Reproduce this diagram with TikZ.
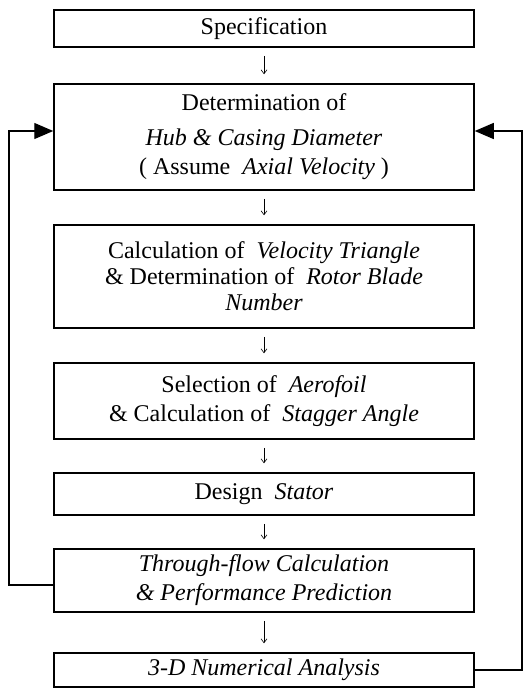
\documentclass[tikz,border=0pt]{standalone}
\usepackage{fontspec}
\setmainfont{Liberation Serif}
\usetikzlibrary{arrows.meta}

\begin{document}
\begin{tikzpicture}[x=1pt,y=-1pt,
    stepbox/.style={draw,line width=1.5pt,minimum width=420pt,align=center,inner sep=0pt,
        font=\fontsize{24}{29}\selectfont},
    down/.style={-{Straight Barb[length=4pt,width=6pt]},line width=0.6pt,shorten <=8pt,shorten >=9pt},
    back/.style={-{Triangle[length=19pt,width=16pt]},line width=1.2pt}]
    % Fix the margins
    \useasboundingbox (0,0) rectangle (526,699);

    % Define the horizontal centre of the boxes
    \def\cx{264}

    % Draw the boxes
    \node[stepbox,minimum height=37pt] (spec) at (\cx,28.5) {Specification};
    \node[stepbox,minimum height=106pt] (hub) at (\cx,137)
        {Determination of\\[6pt] \textit{Hub \& Casing Diameter}\\ ( Assume \ \textit{Axial Velocity} )};
    \node[stepbox,minimum height=103pt,font=\fontsize{24}{26}\selectfont] (tri) at (\cx,276.5)
        {Calculation of \ \textit{Velocity Triangle}\\ \& Determination of \ \textit{Rotor Blade}\\ \textit{Number}};
    \node[stepbox,minimum height=76pt] (foil) at (\cx,401)
        {Selection of \ \textit{Aerofoil}\\ \& Calculation of \ \textit{Stagger Angle}};
    \node[stepbox,minimum height=42pt] (stat) at (\cx,494) {Design \ \textit{Stator}};
    \node[stepbox,minimum height=63pt] (flow) at (\cx,580.5)
        {\textit{Through-flow Calculation}\\ \textit{\& Performance Prediction}};
    \node[stepbox,minimum height=34pt] (num) at (\cx,670) {\textit{3-D Numerical Analysis}};

    % Draw the downward steps
    \draw[down] (spec) -- (hub);
    \draw[down] (hub) -- (tri);
    \draw[down] (tri) -- (foil);
    \draw[down] (foil) -- (stat);
    \draw[down] (stat) -- (flow);
    \draw[down] (flow) -- (num);

    % Draw feedback loops
    \coordinate (L1) at (9,585);
    \coordinate (L2) at (9,131);
    \coordinate (R1) at (522,670);
    \coordinate (R2) at (522,131);
    \draw[back] (flow.west |- L1) -- (L1) -- (L2) -- (hub.west |- L2);
    \draw[back] (num.east) -- (R1) -- (R2) -- (hub.east |- R2);
\end{tikzpicture}
\end{document}
